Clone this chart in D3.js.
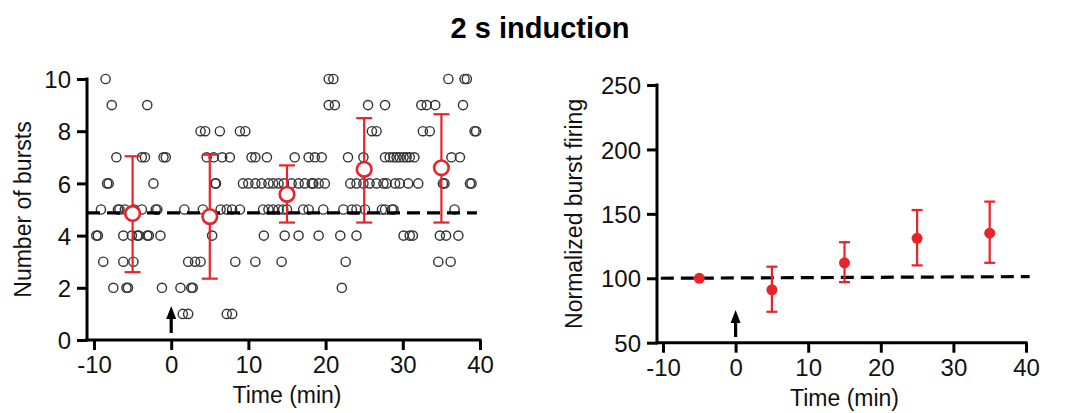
<!DOCTYPE html>
<html>
<head>
<meta charset="utf-8">
<script src="https://cdn.jsdelivr.net/npm/d3@7.9.0/dist/d3.min.js"></script>
<style>
  body { margin: 0; background: #fff; }
  svg { display: block; font-family: "Liberation Sans", Arial, sans-serif; }
</style>
</head>
<body>
<svg id="chart" width="1065" height="413"></svg>
<script>
// individual bursts, grouped by burst count (times in min)
const t10 = [-8.5, 20.4, 21.0, 35.9, 38.0, 38.3];
const t9 = [-7.7, -3.1, 20.4, 21.2, 25.5, 27.7, 32.4, 33.1, 34.2, 37.8];
const t8 = [3.8, 4.4, 6.3, 8.9, 9.6, 26.0, 26.6, 32.6, 33.5, 39.3, 39.5];
const t7 = [-7.1, -3.8, -3.4, -1.0, -0.7, 4.6, 5.5, 6.6, 7.6, 10.4, 10.9, 12.4, 16.0, 17.8, 18.6, 19.5,
  22.9, 24.9, 27.7, 28.3, 28.8, 29.2, 29.6, 30.1, 30.5, 30.9, 31.5, 36.3, 37.4];
const t6 = [-8.3, -8.1, -2.3, 5.7, 5.8, 9.3, 10.0, 10.9, 11.7, 12.6, 13.2, 13.9, 14.6, 15.6, 16.5, 17.3,
  18.2, 18.4, 19.1, 19.9, 23.2, 24.0, 24.9, 25.7, 26.6, 27.5, 27.9, 29.0, 29.6, 30.7, 32.0, 35.2, 35.4, 38.7, 38.9];
const t5 = [-9.1, -6.9, -6.7, -6.0, -4.8, -3.8, -2.0, -1.8, 1.7, 4.1, 6.4, 7.2, 7.9, 8.9, 11.9, 12.6, 13.2,
  13.9, 14.5, 15.0, 17.1, 17.8, 19.7, 22.3, 23.4, 24.0, 25.1, 27.3, 27.7, 28.6, 28.8, 36.7];
const t4 = [-9.7, -9.5, -6.2, -5.1, -4.4, -4.2, -3.1, -2.9, -1.4, 5.3, 12.0, 14.7, 16.5, 19.1, 21.9, 24.0,
  30.1, 30.9, 31.3, 34.8, 35.6, 37.2];
const t3 = [-8.8, -6.2, -4.9, 2.2, 3.1, 3.8, 8.3, 10.9, 14.3, 22.6, 34.6, 36.2];
const t2 = [-7.5, -5.8, -5.6, -1.2, 1.2, 2.6, 2.8, 22.1];
const t1 = [1.5, 2.2, 7.2, 7.9];

const burstRows = [[10, t10], [9, t9], [8, t8], [7, t7], [6, t6], [5, t5], [4, t4], [3, t3], [2, t2], [1, t1]];
const bursts = burstRows.flatMap(([v, ts]) => ts.map(t => ({ t, v })));

// binned means (left)
const binTimes = [-5, 5, 15, 25, 35];
const binMeans = [4.85, 4.73, 5.58, 6.54, 6.6];
const binLow = [2.6, 2.35, 4.5, 4.5, 4.5];
const binHigh = [7.04, 7.1, 6.69, 8.5, 8.65];
const baselineBursts = 4.87;

// normalized (right)
const normValues = [100, 91, 112, 131, 135];
const normLow = [null, 74, 97, 110, 112];
const normHigh = [null, 109, 128, 153, 159.5];
const baselineNorm = [[-10.3, 100], [40.5, 101.3]];

const induction = 0;
const xTicks = [-10, 0, 10, 20, 30, 40];
const yTicksL = [0, 2, 4, 6, 8, 10];
const yTicksR = [50, 100, 150, 200, 250];

const red = '#e8232a';
const svg = d3.select('#chart');

svg.append('text')
  .attr('x', 540).attr('y', 38)
  .attr('text-anchor', 'middle')
  .attr('font-weight', 'bold')
  .attr('font-size', 29)
  .text('2 s induction');

function drawAxes(x, y, yAxisX, xTickVals, yTickVals, xLabel, yLabel, yLabelX) {
  const g = svg.append('g');
  const [y0, y1] = y.range();
  const xEnd = x.range()[1];

  const xa = g.append('g')
    .attr('transform', `translate(0,${y0})`)
    .call(d3.axisBottom(x).tickValues(xTickVals).tickFormat(d => String(d))
      .tickSize(10).tickPadding(5).tickSizeOuter(0));
  xa.select('.domain').remove();
  const ya = g.append('g')
    .attr('transform', `translate(${yAxisX},0)`)
    .call(d3.axisLeft(y).tickValues(yTickVals).tickFormat(d => String(d))
      .tickSize(10).tickPadding(6).tickSizeOuter(0));
  ya.select('.domain').remove();

  g.selectAll('.tick line').attr('stroke', '#000').attr('stroke-width', 3);
  g.selectAll('.tick text').attr('font-size', 24).attr('fill', '#111')
    .attr('font-family', '"Liberation Sans", Arial, sans-serif');
  xa.selectAll('.tick text').attr('dy', '0.75em');
  ya.selectAll('.tick text').attr('dy', '0.36em');

  g.append('line')
    .attr('x1', yAxisX - 1.5).attr('x2', xEnd + 1.5)
    .attr('y1', y0).attr('y2', y0)
    .attr('stroke', '#000').attr('stroke-width', 3);
  g.append('line')
    .attr('x1', yAxisX).attr('x2', yAxisX)
    .attr('y1', y0 + 1.5).attr('y2', y1 - 1.5)
    .attr('stroke', '#000').attr('stroke-width', 3);

  g.append('text')
    .attr('x', (x.range()[0] + xEnd) / 2).attr('y', y0 + 63)
    .attr('text-anchor', 'middle').attr('font-size', 23).attr('fill', '#111')
    .text(xLabel);
  g.append('text')
    .attr('transform', `translate(${yLabelX},${(y0 + y1) / 2}) rotate(-90)`)
    .attr('text-anchor', 'middle').attr('font-size', 23).attr('fill', '#111')
    .text(yLabel);
}

function drawArrow(xPos, yTip, yBase) {
  const g = svg.append('g');
  g.append('line')
    .attr('x1', xPos).attr('x2', xPos)
    .attr('y1', yTip + 8).attr('y2', yBase)
    .attr('stroke', '#000').attr('stroke-width', 3.2);
  g.append('path')
    .attr('d', `M${xPos},${yTip} L${xPos - 5},${yTip + 13} L${xPos + 5},${yTip + 13} Z`)
    .attr('fill', '#000');
}

// ---- left panel ----
const xL = d3.scaleLinear().domain([-10, 40]).range([94, 480]);
const yL = d3.scaleLinear().domain([0, 10]).range([340, 79]);

svg.append('g')
  .selectAll('circle')
  .data(bursts)
  .join('circle')
  .attr('cx', d => xL(d.t))
  .attr('cy', d => yL(d.v))
  .attr('r', 4.6)
  .attr('fill', 'none')
  .attr('stroke', '#333')
  .attr('stroke-width', 1.4);

svg.append('line')
  .attr('x1', 87).attr('x2', xL(39.6))
  .attr('y1', yL(baselineBursts)).attr('y2', yL(baselineBursts))
  .attr('stroke', '#000').attr('stroke-width', 3.2)
  .attr('stroke-dasharray', '13,7');

const meansL = binTimes.map((t, i) => ({ t, m: binMeans[i], lo: binLow[i], hi: binHigh[i] }));
const errL = svg.append('g').selectAll('g').data(meansL).join('g')
  .attr('stroke', red).attr('stroke-width', 2.2);
errL.append('line')
  .attr('x1', d => xL(d.t)).attr('x2', d => xL(d.t))
  .attr('y1', d => yL(d.lo)).attr('y2', d => yL(d.hi));
errL.append('line')
  .attr('x1', d => xL(d.t) - 8).attr('x2', d => xL(d.t) + 8)
  .attr('y1', d => yL(d.lo)).attr('y2', d => yL(d.lo));
errL.append('line')
  .attr('x1', d => xL(d.t) - 8).attr('x2', d => xL(d.t) + 8)
  .attr('y1', d => yL(d.hi)).attr('y2', d => yL(d.hi));
errL.append('circle')
  .attr('cx', d => xL(d.t)).attr('cy', d => yL(d.m))
  .attr('r', 7.3).attr('fill', '#fff').attr('stroke-width', 2.6);

drawAxes(xL, yL, 87, xTicks, yTicksL, 'Time (min)', 'Number of bursts', 31);
drawArrow(xL(induction), 306, 333);

// ---- right panel ----
const xR = d3.scaleLinear().domain([-10, 40]).range([663, 1026]);
const yR = d3.scaleLinear().domain([50, 250]).range([342.7, 85]);

svg.append('path')
  .datum(baselineNorm)
  .attr('d', d3.line().x(d => xR(d[0])).y(d => yR(d[1])))
  .attr('stroke', '#000').attr('stroke-width', 3.2).attr('fill', 'none')
  .attr('stroke-dasharray', '13,7');

const meansR = binTimes.map((t, i) => ({ t, m: normValues[i], lo: normLow[i], hi: normHigh[i] }));
const errR = svg.append('g').selectAll('g').data(meansR.filter(d => d.lo !== null)).join('g')
  .attr('stroke', red).attr('stroke-width', 2.2);
errR.append('line')
  .attr('x1', d => xR(d.t)).attr('x2', d => xR(d.t))
  .attr('y1', d => yR(d.lo)).attr('y2', d => yR(d.hi));
errR.append('line')
  .attr('x1', d => xR(d.t) - 5.5).attr('x2', d => xR(d.t) + 5.5)
  .attr('y1', d => yR(d.lo)).attr('y2', d => yR(d.lo));
errR.append('line')
  .attr('x1', d => xR(d.t) - 5.5).attr('x2', d => xR(d.t) + 5.5)
  .attr('y1', d => yR(d.hi)).attr('y2', d => yR(d.hi));
svg.append('g').selectAll('circle').data(meansR).join('circle')
  .attr('cx', d => xR(d.t)).attr('cy', d => yR(d.m))
  .attr('r', 5.5).attr('fill', red);

drawAxes(xR, yR, 657, xTicks, yTicksR, 'Time (min)', 'Normalized burst firing', 582);
drawArrow(xR(induction), 310, 337);
</script>
</body>
</html>
